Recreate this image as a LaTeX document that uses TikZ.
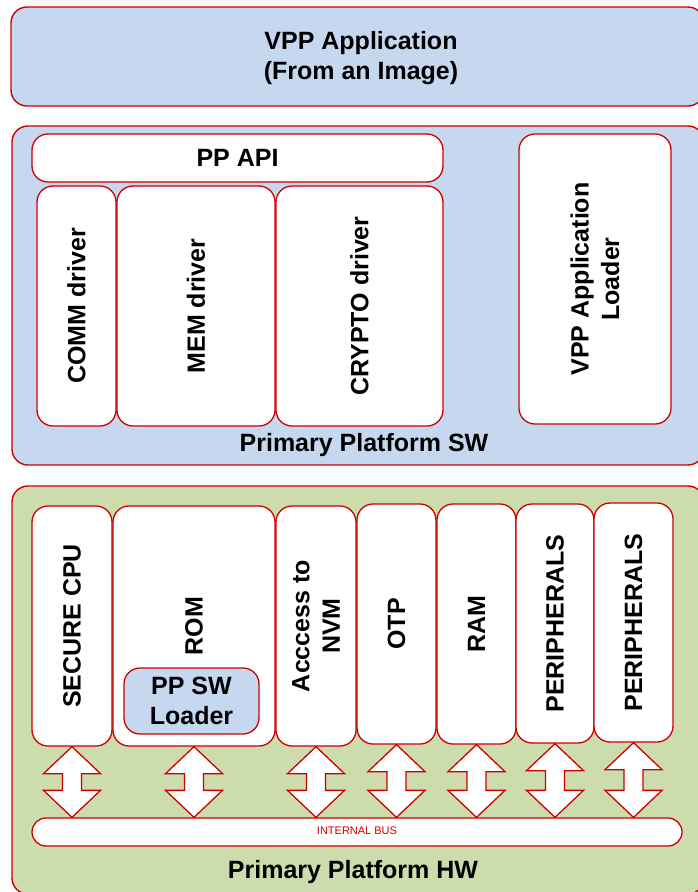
\documentclass[tikz,border=0pt]{standalone}
\usepackage{fontspec}
\setmainfont{Liberation Sans}
\usetikzlibrary{calc}
\definecolor{swblue}{RGB}{198,216,239}
\definecolor{hwgreen}{RGB}{205,220,172}
\definecolor{edgered}{RGB}{204,0,0}
\tikzset{
  frame/.style={draw=edgered, line width=1.4pt, rounded corners=16pt},
  layer/.style={frame, inner sep=0pt},
  block/.style={frame, fill=white, line width=1.3pt, inner sep=0pt},
  txt/.style={font=\fontsize{25}{30.5}\selectfont\bfseries, align=center, inner sep=0pt},
  vtxt/.style={txt, rotate=90},
  busarrow/.style={draw=edgered, fill=white, line width=1.3pt, line join=miter},
}
% box from its corners (pixel-like units, y downward)
\newcommand\boxat[5][block]{%
  \node[#1, minimum width=#4-#2, minimum height=#5-#3] at ({(#2+#4)/2},{(#3+#5)/2})}
% double-headed arrow between a block and the internal bus
\newcommand\busarrowfrom[1]{%
  \draw[busarrow] let \p1=(#1.south), \p2=(bus.north) in
    (\x1,\y1) -- (\x1+28.5pt,\y1-27pt) -- (\x1+9.5pt,\y1-27pt) --
    (\x1+9.5pt,\y2+27pt) -- (\x1+28.5pt,\y2+27pt) -- (\x1,\y2) --
    (\x1-28.5pt,\y2+27pt) -- (\x1-9.5pt,\y2+27pt) --
    (\x1-9.5pt,\y1-27pt) -- (\x1-28.5pt,\y1-27pt) -- cycle;}
\begin{document}
\begin{tikzpicture}[x=1pt, y=-1pt]
\useasboundingbox (0,0) rectangle (697,892);

% application layer
\boxat[layer, fill=swblue]{11}{7}{704}{106} (app) {};
\node[txt] (apptext) at (361,58) {VPP Application\\(From an Image)};

% primary platform software
\boxat[layer, fill=swblue]{12}{126}{704}{465} (sw) {};
\boxat{32}{134}{443}{182} (api) {};
\node[txt] at (api.center) {PP API};
\boxat{37}{186}{116}{426} (comm) {};
\node[vtxt] at (comm.center) {COMM driver};
\boxat{117}{186}{275}{426} (mem) {};
\node[vtxt] at (mem.center) {MEM driver};
\boxat{276}{186}{443}{426} (crypto) {};
\node[vtxt] at (crypto.center) {CRYPTO driver};
\boxat{519}{134}{671}{424} (loader) {};
\node[vtxt] at (loader.center) {VPP Application\\Loader};
\node[txt] (swlabel) at (364,445) {Primary Platform SW};

% primary platform hardware
\boxat[layer, fill=hwgreen]{12}{486}{704}{894} (hw) {};
\boxat{32}{506}{112}{746} (cpu) {};
\node[vtxt] at (cpu.center) {SECURE CPU};
\boxat{113}{506}{275}{746} (rom) {};
\node[vtxt] at (194,626) {ROM};
\boxat[block, fill=swblue]{124}{668}{259}{734} (ppsw) {};
\node[txt] at (ppsw.center) {PP SW\\Loader};
\boxat{276}{506}{356}{746} (nvm) {};
\node[vtxt] at (nvm.center) {Acccess to\\NVM};
\boxat{357}{504}{436}{744} (otp) {};
\node[vtxt] at (otp.center) {OTP};
\boxat{437}{504}{516}{744} (ram) {};
\node[vtxt] at (ram.center) {RAM};
\boxat{516}{504}{594}{743} (periA) {};
\node[vtxt] at (periA.center) {PERIPHERALS};
\boxat{594}{503}{673}{742} (periB) {};
\node[vtxt] at (periB.center) {PERIPHERALS};

\boxat[block, rounded corners=14pt]{32}{818}{682}{846} (bus) {};
\node[text=edgered, font=\fontsize{11}{13}\selectfont, inner sep=0pt] at (357,831) {INTERNAL BUS};

\foreach \b in {cpu,rom,nvm,otp,ram,periA,periB} {\busarrowfrom{\b}}

\node[txt] (hwlabel) at (353,872) {Primary Platform HW};
\end{tikzpicture}
\end{document}
